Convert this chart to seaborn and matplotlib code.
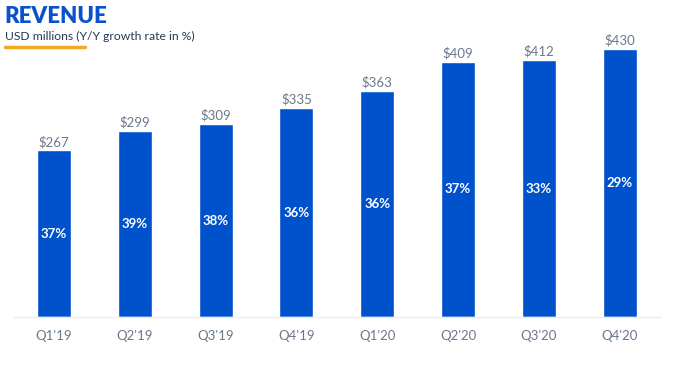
import matplotlib
matplotlib.use("Agg")
import matplotlib.pyplot as plt
import seaborn as sns
import pandas as pd
from matplotlib.lines import Line2D

quarters = ["Q1'19", "Q2'19", "Q3'19", "Q4'19", "Q1'20", "Q2'20", "Q3'20", "Q4'20"]
revenue = [267, 299, 309, 335, 363, 409, 412, 430]
growth = [37, 39, 38, 36, 36, 37, 33, 29]

df = pd.DataFrame({"quarter": quarters, "revenue": revenue})

sns.set_theme(style="white")
plt.rcParams['font.family'] = ['Lato', 'DejaVu Sans']

BLUE = "#0052CC"
GRAY = "#6B778C"

fig = plt.figure(figsize=(6.8, 3.65), dpi=100)
ax = fig.add_axes([0.0199, 0.1315, 0.951, 0.803])
sns.barplot(data=df, x="quarter", y="revenue", color=BLUE, saturation=1,
            width=0.42, ax=ax)
ax.set_xlim(-0.5, 7.5)
ax.set_ylim(0, 470)
ax.set_xlabel("")
ax.set_ylabel("")
ax.set_yticks([])
for s in ["top", "right", "left"]:
    ax.spines[s].set_visible(False)
ax.spines["bottom"].set_color("#EBECF0")
ax.spines["bottom"].set_linewidth(1)
ax.tick_params(axis="x", length=0, pad=9, labelsize=9.5, labelcolor=GRAY)

for i, (v, g) in enumerate(zip(revenue, growth)):
    ax.text(i, v + 4, f"${v}", ha="center", va="bottom", fontsize=9.5, color=GRAY)
    ax.text(i, v / 2, f"{g}%", ha="center", va="center", fontsize=9.5,
            color="white", fontweight="bold")

fig.text(0.007, 0.955, "REVENUE", fontsize=16, fontweight="heavy", color="#0A52CC",
         ha="left", va="center")
fig.text(0.007, 0.9, "USD millions (Y/Y growth rate in %)", fontsize=8.7,
         color="#253858", ha="left", va="center")
fig.add_artist(Line2D([0.008, 0.125], [0.87, 0.87], color="#F5A623", linewidth=2.5,
                      transform=fig.transFigure, solid_capstyle="round"))

fig.savefig("out.png", dpi=100)
